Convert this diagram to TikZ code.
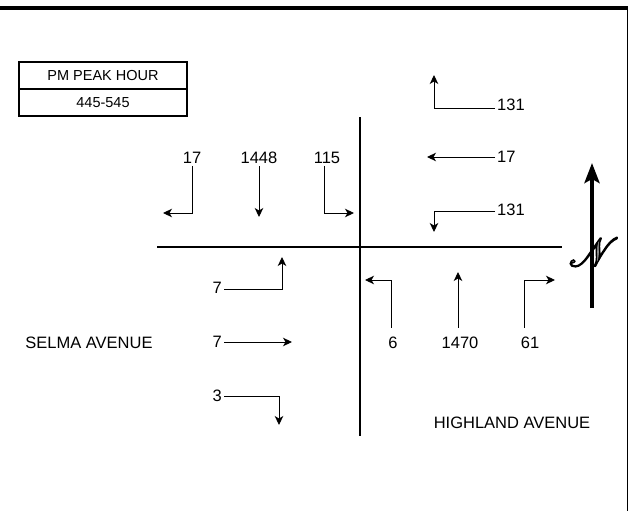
\documentclass[tikz,border=0pt]{standalone}
\usepackage{fontspec}
\setmainfont{Liberation Sans}
\usepackage{amsmath,mathrsfs}
\usetikzlibrary{arrows.meta,positioning}
% script N, gray fill with black outline (text render mode 2)
\newcommand{\compassN}{\textcolor{black!45}{%
  \special{pdf:literal direct 2 Tr 0.35 w 0 G}%
  \scalebox{4}{$\mathscr{N}$}%
  \special{pdf:literal direct 0 Tr}}}

\begin{document}
\begin{tikzpicture}[x=1pt,y=-1pt,
    road/.style={line width=2pt},
    mv/.style={line width=0.9pt,-{Stealth[length=9pt,width=8.5pt,inset=2.5pt]}},
    vol/.style={inner sep=2pt,font=\fontsize{16.5}{19}\selectfont},
    hdr/.style={draw,line width=1.4pt,outer sep=0pt,inner sep=0pt,minimum width=168pt,minimum height=27pt,font=\fontsize{14.5}{17}\selectfont},
  ]
  \useasboundingbox (0,0) rectangle (629,511);
  % frame
  \coordinate (fl) at (0,8);
  \coordinate (fr) at (628,8);
  \coordinate (fb) at (627.5,511);
  \draw[line width=4pt] (fl) -- (fr);
  \draw[line width=1pt] (627.5,8) -- (fb);
  % peak hour box
  \node[hdr] (title) at (103,75.5) {PM PEAK HOUR};
  \node[hdr,below=0pt of title] (period) {445-545};
  % streets
  \coordinate (rw) at (157,247);
  \coordinate (re) at (562,247);
  \coordinate (rn) at (360,117);
  \coordinate (rs) at (360,436);
  \draw[road] (rw) -- (re);
  \draw[road] (rn) -- (rs);
  % southbound
  \foreach \n/\x/\t in {sbR/192/17,sbT/259/1448,sbL/327/115}
    \node[vol] (\n) at (\x,158) {\t};
  \coordinate (sbRtip) at (163,213);
  \coordinate (sbTtip) at (259,217);
  \coordinate (sbLtip) at (354,213);
  \draw[mv] (sbR.south) |- (sbRtip);
  \draw[mv] (sbT.south) -- (sbTtip);
  \draw[mv] ([xshift=-3pt]sbL.south) |- (sbLtip);
  % westbound
  \foreach \n/\y/\t in {wbR/105/131,wbT/157/17,wbL/210/131}
    \node[vol,anchor=west] (\n) at (495,\y) {\t};
  \coordinate (wbRtip) at (434,75);
  \coordinate (wbTtip) at (427,157);
  \coordinate (wbLtip) at (434,232);
  \draw[mv] ([yshift=-3pt]wbR.west) -| (wbRtip);
  \draw[mv] (wbT.west) -- (wbTtip);
  \draw[mv] ([yshift=-1pt]wbL.west) -| (wbLtip);
  % eastbound
  \foreach \n/\y/\t in {ebL/288/7,ebT/342/7,ebR/396/3}
    \node[vol,anchor=east] (\n) at (224,\y) {\t};
  \coordinate (ebLtip) at (282,257);
  \coordinate (ebTtip) at (292,342);
  \coordinate (ebRtip) at (279,425);
  \draw[mv] ([yshift=-1pt]ebL.east) -| (ebLtip);
  \draw[mv] (ebT.east) -- (ebTtip);
  \draw[mv] (ebR.east) -| (ebRtip);
  % northbound
  \foreach \n/\x/\t in {nbL/393/6,nbT/460/1470,nbR/530/61}
    \node[vol] (\n) at (\x,343) {\t};
  \coordinate (nbLtip) at (365,280);
  \coordinate (nbTtip) at (458,272);
  \coordinate (nbRtip) at (555,280);
  \draw[mv,shorten <=7pt] ([xshift=-2pt]nbL.north) |- (nbLtip);
  \draw[mv,shorten <=7pt] ([xshift=-2pt]nbT.north) -- (nbTtip);
  \draw[mv,shorten <=7pt] ([xshift=-6pt]nbR.north) |- (nbRtip);
  % street names
  \node[vol] (selma) at (89,343) {SELMA AVENUE};
  \node[vol] (highland) at (512,423) {HIGHLAND AVENUE};
  % north arrow
  \node[inner sep=0pt] (north) at (594,252) {\compassN};
  \coordinate (nbase) at (592,308);
  \coordinate (ntip) at (592,163);
  \draw[line width=4.5pt,-{Stealth[length=20pt,width=15pt,inset=4pt]}] (nbase) -- (ntip);
\end{tikzpicture}
\end{document}
